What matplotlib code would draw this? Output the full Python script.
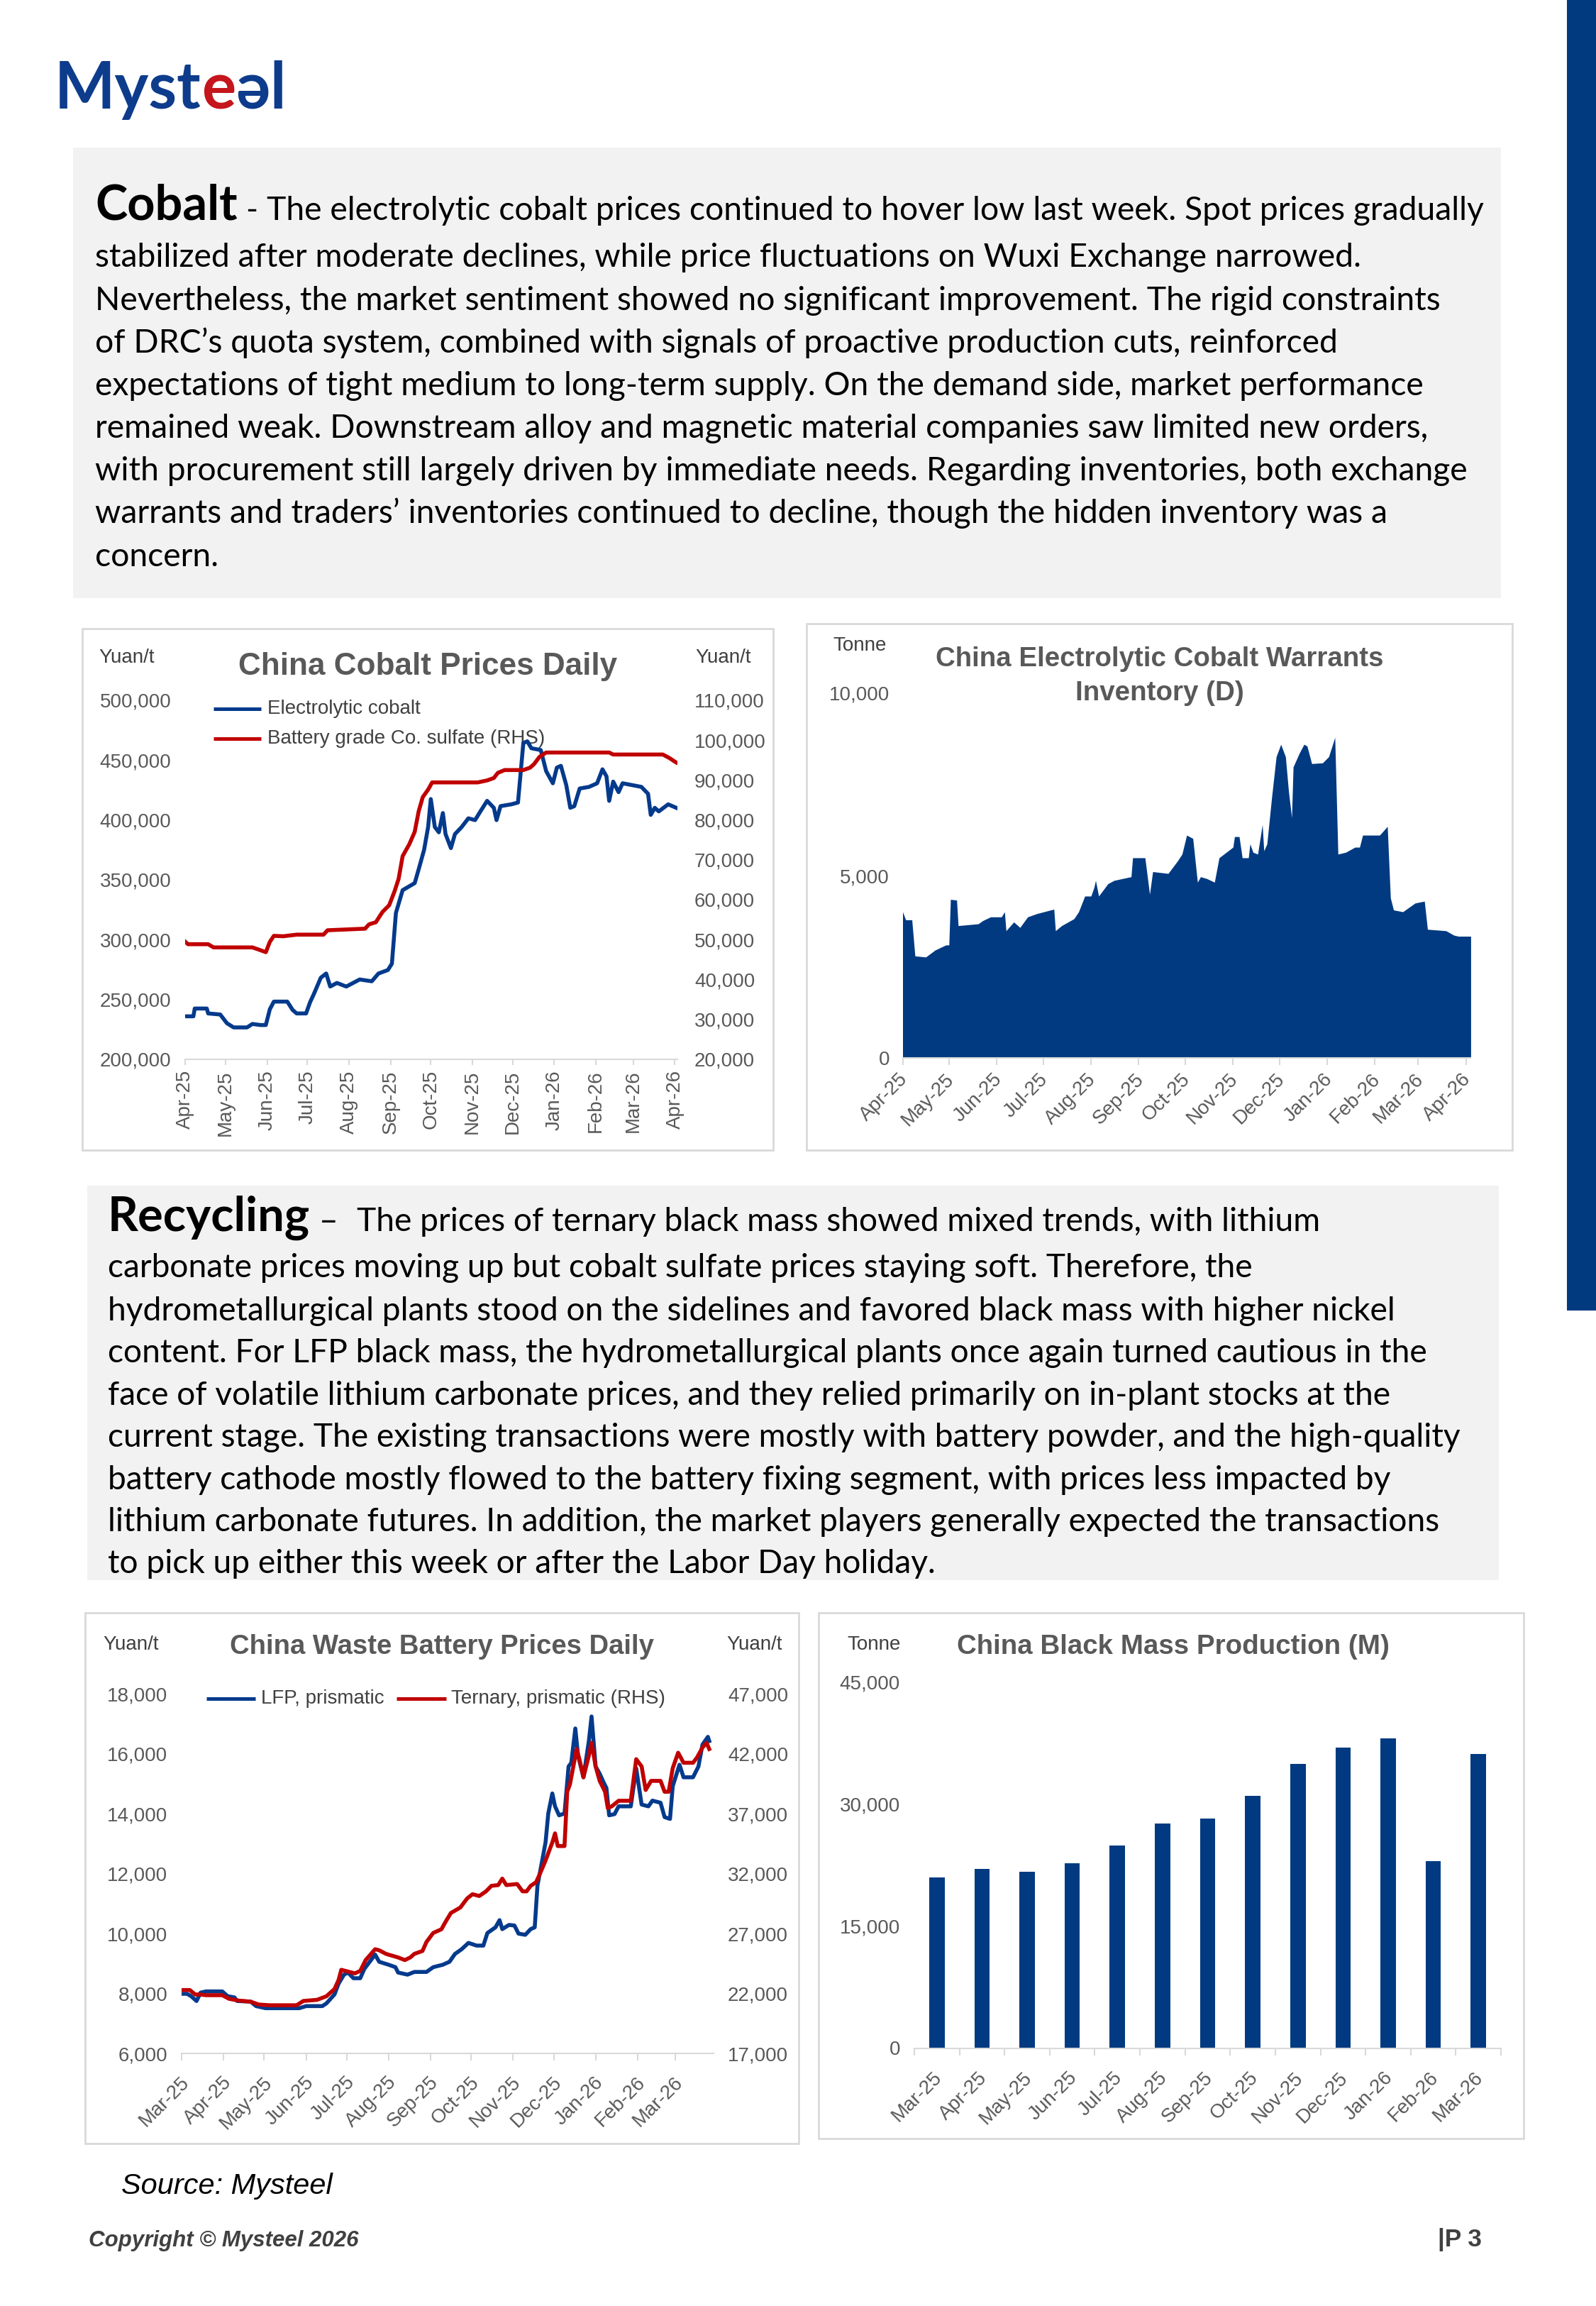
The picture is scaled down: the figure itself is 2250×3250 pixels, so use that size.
import matplotlib
matplotlib.use("Agg")
import matplotlib.pyplot as plt
import matplotlib.transforms as mtransforms
from matplotlib.patches import Rectangle
from matplotlib.lines import Line2D
from matplotlib.ticker import FuncFormatter
from matplotlib import font_manager
import numpy as np
import pandas as pd

# ----------------------------------------------------------------- data
cobalt_dates = ["2025-04-01", "2025-04-07", "2025-04-08", "2025-04-17", "2025-04-18", "2025-04-27",
                "2025-05-02", "2025-05-07", "2025-05-17", "2025-05-21", "2025-05-27", "2025-05-31",
                "2025-06-03", "2025-06-06", "2025-06-16", "2025-06-20", "2025-06-23", "2025-06-30",
                "2025-07-03", "2025-07-06", "2025-07-11", "2025-07-15", "2025-07-18", "2025-07-23",
                "2025-07-30", "2025-08-09", "2025-08-18", "2025-08-23", "2025-08-30", "2025-09-02",
                "2025-09-05", "2025-09-10", "2025-09-19", "2025-09-22", "2025-09-26", "2025-09-29",
                "2025-10-01", "2025-10-04", "2025-10-07", "2025-10-10", "2025-10-12", "2025-10-16",
                "2025-10-19", "2025-10-24", "2025-10-29", "2025-11-03", "2025-11-07", "2025-11-12",
                "2025-11-17", "2025-11-19", "2025-11-22", "2025-11-30", "2025-12-05", "2025-12-09",
                "2025-12-12", "2025-12-15", "2025-12-22", "2025-12-26", "2025-12-31", "2026-01-03",
                "2026-01-06", "2026-01-10", "2026-01-13", "2026-01-16", "2026-01-20", "2026-01-27",
                "2026-02-02", "2026-02-06", "2026-02-09", "2026-02-11", "2026-02-14", "2026-02-18",
                "2026-02-21", "2026-02-28", "2026-03-07", "2026-03-12", "2026-03-14", "2026-03-17",
                "2026-03-20", "2026-03-27", "2026-04-02"]
cobalt_price = [235700, 235700, 242200, 242200, 238100, 237200,
                229900, 226400, 226400, 229300, 228400, 228400,
                241600, 248000, 248000, 241000, 238100, 238100,
                247500, 254800, 268000, 271500, 260600, 263600,
                260600, 266500, 265000, 271500, 274400, 279700,
                322200, 341200, 347100, 358800, 374900, 394000,
                417400, 394000, 389600, 405700, 388100, 376400,
                388100, 394000, 401300, 399800, 407100, 415900,
                410100, 399800, 411500, 413000, 414500, 464300,
                465700, 459900, 458400, 440800, 430600, 443700,
                445200, 429100, 410100, 411500, 426200, 427600,
                430600, 442300, 436400, 415900, 432000, 423200,
                430600, 429100, 427600, 421800, 404200, 410100,
                407100, 413000, 410100]

sulfate_dates = ["2025-04-01", "2025-04-03", "2025-04-18", "2025-04-22", "2025-05-21", "2025-05-27",
                 "2025-05-31", "2025-06-03", "2025-06-06", "2025-06-13", "2025-06-23", "2025-07-13",
                 "2025-07-16", "2025-08-13", "2025-08-16", "2025-08-21", "2025-08-26", "2025-08-31",
                 "2025-09-04", "2025-09-07", "2025-09-10", "2025-09-15", "2025-09-19", "2025-09-22",
                 "2025-09-25", "2025-09-29", "2025-10-02", "2025-11-05", "2025-11-12", "2025-11-17",
                 "2025-11-20", "2025-11-25", "2025-12-09", "2025-12-14", "2025-12-17", "2025-12-21",
                 "2025-12-26", "2026-02-11", "2026-02-14", "2026-03-23", "2026-03-28", "2026-04-01",
                 "2026-04-02"]
sulfate_price = [49400, 48800, 48800, 48000, 48000, 47300,
                 46800, 49400, 50900, 50800, 51200, 51200,
                 52300, 52700, 53800, 54300, 56900, 58600,
                 62100, 65200, 70900, 73900, 77000, 82200,
                 85700, 87600, 89400, 89400, 89900, 90500,
                 91800, 92500, 92500, 93100, 94000, 95800,
                 96900, 96900, 96400, 96400, 95500, 94600,
                 94400]

warrant_dates = ["2025-04-01", "2025-04-03", "2025-04-07", "2025-04-09", "2025-04-16", "2025-04-22",
                 "2025-04-29", "2025-05-01", "2025-05-02", "2025-05-06", "2025-05-07", "2025-05-20",
                 "2025-05-23", "2025-05-28", "2025-06-04", "2025-06-06", "2025-06-07", "2025-06-12",
                 "2025-06-16", "2025-06-21", "2025-06-27", "2025-07-06", "2025-07-08", "2025-07-09",
                 "2025-07-13", "2025-07-21", "2025-07-24", "2025-07-28", "2025-08-01", "2025-08-03",
                 "2025-08-04", "2025-08-06", "2025-08-12", "2025-08-16", "2025-08-27", "2025-08-28",
                 "2025-09-05", "2025-09-08", "2025-09-10", "2025-09-20", "2025-09-26", "2025-09-29",
                 "2025-10-02", "2025-10-06", "2025-10-09", "2025-10-11", "2025-10-15", "2025-10-20",
                 "2025-10-23", "2025-11-01", "2025-11-02", "2025-11-05", "2025-11-07", "2025-11-11",
                 "2025-11-12", "2025-11-14", "2025-11-17", "2025-11-20", "2025-11-21", "2025-11-23",
                 "2025-11-26", "2025-11-29", "2025-12-02", "2025-12-05", "2025-12-07", "2025-12-09",
                 "2025-12-10", "2025-12-14", "2025-12-17", "2025-12-19", "2025-12-22", "2025-12-29",
                 "2026-01-02", "2026-01-06", "2026-01-08", "2026-01-13", "2026-01-19", "2026-01-22",
                 "2026-01-24", "2026-02-04", "2026-02-09", "2026-02-11", "2026-02-13", "2026-02-19",
                 "2026-02-27", "2026-03-05", "2026-03-07", "2026-03-19", "2026-03-24", "2026-03-27",
                 "2026-04-04"]
warrant_stock = [4010, 3790, 3790, 2800, 2770, 2960,
                 3100, 3100, 4350, 4330, 3630, 3680,
                 3770, 3870, 3870, 4010, 3490, 3730,
                 3580, 3870, 3960, 4060, 4080, 3490,
                 3630, 3820, 4010, 4440, 4440, 4680,
                 4870, 4440, 4780, 4870, 4970, 5490,
                 5490, 4490, 5110, 5060, 5400, 5590,
                 6110, 6020, 4820, 4970, 4920, 4820,
                 5490, 5780, 6070, 6070, 5490, 5490,
                 5870, 5640, 5590, 6400, 5680, 5870,
                 7120, 8260, 8600, 8260, 7310, 6590,
                 7980, 8360, 8600, 8550, 8070, 8090,
                 8260, 8790, 5590, 5640, 5780, 5780,
                 6110, 6110, 6350, 4390, 4060, 4010,
                 4250, 4300, 3530, 3490, 3370, 3340,
                 3340]

lfp_dates = ["2025-03-01", "2025-03-05", "2025-03-08", "2025-03-12", "2025-03-15", "2025-03-19",
             "2025-03-31", "2025-04-04", "2025-04-09", "2025-04-11", "2025-04-21", "2025-04-25",
             "2025-05-02", "2025-05-27", "2025-06-01", "2025-06-13", "2025-06-16", "2025-06-22",
             "2025-06-25", "2025-06-29", "2025-07-02", "2025-07-06", "2025-07-11", "2025-07-14",
             "2025-07-18", "2025-07-22", "2025-07-25", "2025-08-01", "2025-08-06", "2025-08-08",
             "2025-08-15", "2025-08-20", "2025-08-29", "2025-09-03", "2025-09-10", "2025-09-15",
             "2025-09-19", "2025-09-24", "2025-09-29", "2025-10-05", "2025-10-10", "2025-10-13",
             "2025-10-19", "2025-10-22", "2025-10-24", "2025-10-29", "2025-11-02", "2025-11-05",
             "2025-11-10", "2025-11-14", "2025-11-17", "2025-11-19", "2025-11-23", "2025-11-25",
             "2025-11-27", "2025-11-30", "2025-12-02", "2025-12-05", "2025-12-09", "2025-12-12",
             "2025-12-14", "2025-12-17", "2025-12-19", "2025-12-23", "2025-12-27", "2025-12-29",
             "2026-01-01", "2026-01-04", "2026-01-07", "2026-01-09", "2026-01-11", "2026-01-15",
             "2026-01-18", "2026-01-27", "2026-01-31", "2026-02-04", "2026-02-09", "2026-02-12",
             "2026-02-18", "2026-02-21", "2026-02-25", "2026-02-27", "2026-03-04", "2026-03-07",
             "2026-03-14", "2026-03-18", "2026-03-21", "2026-03-25", "2026-03-26"]
lfp_price = [7990, 7990, 7910, 7750, 8030, 8070,
             8070, 7910, 7870, 7750, 7730, 7580,
             7510, 7510, 7580, 7580, 7670, 7970,
             8330, 8630, 8700, 8510, 8510, 8820,
             9060, 9300, 9060, 8960, 8880, 8700,
             8630, 8720, 8720, 8880, 8960, 9060,
             9320, 9480, 9690, 9600, 9600, 10020,
             10210, 10450, 10150, 10290, 10270, 10000,
             9960, 10150, 10210, 11600, 12560, 13050,
             14010, 14680, 14250, 13950, 14010, 15580,
             15700, 16850, 15950, 15220, 16430, 17250,
             15580, 15340, 15040, 14860, 13950, 13990,
             14250, 14250, 15520, 14310, 14250, 14440,
             14370, 13890, 13830, 14920, 15640, 15220,
             15220, 15580, 16310, 16570, 16430]

ternary_dates = ["2025-03-01", "2025-03-07", "2025-03-11", "2025-03-14", "2025-03-19", "2025-03-31",
                 "2025-04-05", "2025-04-12", "2025-04-21", "2025-04-27", "2025-05-05", "2025-05-25",
                 "2025-05-30", "2025-06-09", "2025-06-16", "2025-06-22", "2025-06-25", "2025-06-27",
                 "2025-06-30", "2025-07-07", "2025-07-11", "2025-07-15", "2025-07-22", "2025-07-25",
                 "2025-07-30", "2025-08-08", "2025-08-13", "2025-08-17", "2025-08-20", "2025-08-26",
                 "2025-08-29", "2025-09-03", "2025-09-09", "2025-09-12", "2025-09-16", "2025-09-23",
                 "2025-09-28", "2025-10-02", "2025-10-07", "2025-10-12", "2025-10-16", "2025-10-21",
                 "2025-10-24", "2025-10-27", "2025-11-04", "2025-11-08", "2025-11-11", "2025-11-14",
                 "2025-11-18", "2025-11-21", "2025-11-25", "2025-11-28", "2025-11-30", "2025-12-02",
                 "2025-12-04", "2025-12-09", "2025-12-11", "2025-12-13", "2025-12-14", "2025-12-18",
                 "2025-12-20", "2025-12-23", "2025-12-27", "2025-12-29", "2026-01-01", "2026-01-04",
                 "2026-01-08", "2026-01-10", "2026-01-13", "2026-01-18", "2026-01-27", "2026-01-31",
                 "2026-02-04", "2026-02-07", "2026-02-11", "2026-02-18", "2026-02-21", "2026-02-24",
                 "2026-02-27", "2026-03-03", "2026-03-07", "2026-03-14", "2026-03-17", "2026-03-21",
                 "2026-03-24", "2026-03-26"]
ternary_price = [22290, 22290, 21920, 21920, 21860, 21860,
                 21560, 21410, 21320, 21080, 21020, 21020,
                 21380, 21470, 21770, 22380, 23130, 23980,
                 23890, 23680, 23890, 24790, 25700, 25610,
                 25310, 25010, 24790, 25010, 25310, 25550,
                 26310, 27060, 27360, 27970, 28720, 29180,
                 29930, 30290, 30140, 30530, 30990, 31050,
                 31590, 31050, 31140, 30530, 30530, 30990,
                 31290, 32040, 33100, 34010, 34610, 35370,
                 34310, 34310, 38840, 39450, 40050, 42410,
                 41560, 40050, 41860, 42920, 40960, 39750,
                 38840, 37480, 37630, 38090, 38090, 41560,
                 40960, 38990, 39750, 39750, 38840, 38840,
                 40810, 42100, 41260, 41260, 41710, 42530,
                 42920, 42410]

bm_months = ["Mar-25", "Apr-25", "May-25", "Jun-25", "Jul-25", "Aug-25", "Sep-25",
             "Oct-25", "Nov-25", "Dec-25", "Jan-26", "Feb-26", "Mar-26"]
bm_output = [21000, 22000, 21700, 22700, 24900, 27600, 28200,
             31000, 35000, 37000, 38100, 23000, 36200]

cobalt_para = [
    "- The electrolytic cobalt prices continued to hover low last week. Spot prices gradually",
    "stabilized after moderate declines, while price fluctuations on Wuxi Exchange narrowed.",
    "Nevertheless, the market sentiment showed no significant improvement. The rigid constraints",
    "of DRC\u2019s quota system, combined with signals of proactive production cuts, reinforced",
    "expectations of tight medium to long-term supply. On the demand side, market performance",
    "remained weak. Downstream alloy and magnetic material companies saw limited new orders,",
    "with procurement still largely driven by immediate needs. Regarding inventories, both exchange",
    "warrants and traders\u2019 inventories continued to decline, though the hidden inventory was a",
    "concern.",
]
recycling_para = [
    "The prices of ternary black mass showed mixed trends, with lithium",
    "carbonate prices moving up but cobalt sulfate prices staying soft. Therefore, the",
    "hydrometallurgical plants stood on the sidelines and favored black mass with higher nickel",
    "content. For LFP black mass, the hydrometallurgical plants once again turned cautious in the",
    "face of volatile lithium carbonate prices, and they relied primarily on in-plant stocks at the",
    "current stage. The existing transactions were mostly with battery powder, and the high-quality",
    "battery cathode mostly flowed to the battery fixing segment, with prices less impacted by",
    "lithium carbonate futures. In addition, the market players generally expected the transactions",
    "to pick up either this week or after the Labor Day holiday.",
]

# ----------------------------------------------------------------- setup
W, H = 2250, 3250
plt.rcParams['font.family'] = ['Liberation Sans', 'DejaVu Sans']
fig = plt.figure(figsize=(W / 100, H / 100), dpi=100)
fig.patch.set_facecolor('white')
renderer = fig.canvas.get_renderer()

names = {f.name for f in font_manager.fontManager.ttflist}
NARROW = 'Liberation Sans Narrow' if 'Liberation Sans Narrow' in names else 'Liberation Sans'
PARAF = 'Lato' if 'Lato' in names else 'DejaVu Sans'

BLUE = '#043A8C'
RED = '#C00000'
AREA = '#013A81'
FRAME = '#D9D9D9'
TICKC = '#595959'
LABC = '#404040'
TITC = '#595959'


def ftext(x, y, s, size, **kw):
    return fig.text(x / W, 1 - y / H, s, fontsize=size, **kw)


def measure(s, size, **kw):
    t = fig.text(0, 0, s, fontsize=size, **kw)
    w = t.get_window_extent(renderer).width
    t.remove()
    return w


def fit(s, target, **kw):
    return 40.0 * target / measure(s, 40.0, **kw)


def rect(x0, y0, x1, y1, **kw):
    fig.add_artist(Rectangle((x0 / W, 1 - y1 / H), (x1 - x0) / W, (y1 - y0) / H,
                             transform=fig.transFigure, **kw))


def hline(x0, x1, y, color, lw):
    fig.add_artist(Line2D([x0 / W, x1 / W], [1 - y / H, 1 - y / H], color=color, lw=lw,
                          transform=fig.transFigure, solid_capstyle='butt'))


def add_ax(l, t, r, b):
    return fig.add_axes([l / W, 1 - b / H, (r - l) / W, (b - t) / H])


fmt = FuncFormatter(lambda v, p: f'{v:,.0f}')


def style(ax, tick_len_px=10, ypad_px=20):
    ax.set_facecolor('none')
    for s in ('left', 'right', 'top'):
        ax.spines[s].set_visible(False)
    ax.spines['bottom'].set_color(FRAME)
    ax.spines['bottom'].set_linewidth(1.5)
    ax.tick_params(axis='y', length=0, labelsize=20, labelcolor=TICKC, pad=ypad_px * 0.72)
    ax.tick_params(axis='x', length=tick_len_px * 0.72, width=1.5, color=FRAME,
                   labelsize=20, labelcolor=TICKC, direction='out')
    ax.yaxis.set_major_formatter(fmt)


def style_twin(ax, ypad_px=20):
    ax.set_facecolor('none')
    for s in ('left', 'right', 'top', 'bottom'):
        ax.spines[s].set_visible(False)
    ax.tick_params(axis='y', length=0, labelsize=20, labelcolor=TICKC, pad=ypad_px * 0.72)
    ax.yaxis.set_major_formatter(fmt)


def rot45(ax, dx_px, dy_px, tick_len_px):
    ax.tick_params(axis='x', which='major', pad=max(dy_px - tick_len_px, 0) * 0.72)
    off = mtransforms.ScaledTranslation(dx_px / 100, 0, fig.dpi_scale_trans)
    for lab in ax.get_xticklabels():
        lab.set_rotation(45)
        lab.set_ha('right')
        lab.set_va('center')
        lab.set_rotation_mode('anchor')
        lab.set_transform(lab.get_transform() + off)


# ----------------------------------------------------------------- page furniture
rect(2209, 0, 2250, 1847, facecolor='#023A80', edgecolor='none', zorder=-20)
rect(103, 208, 2116, 843, facecolor='#F2F2F2', edgecolor='none', zorder=-20)
rect(123, 1671, 2113, 2227, facecolor='#F2F2F2', edgecolor='none', zorder=-20)
for (x0, y0, x1, y1) in [(116, 886, 1090, 1621), (1137, 879, 2132, 1621),
                         (120, 2273, 1126, 3021), (1154, 2273, 2148, 3014)]:
    rect(x0, y0, x1, y1, facecolor='white', edgecolor=FRAME, lw=2, zorder=-15)

# logo
LOGO_BLUE = '#0E3C8C'
LOGO_RED = '#C4161C'
logo_parts = [('Myst', LOGO_BLUE), ('e', LOGO_RED), ('\u0259', LOGO_BLUE), ('l', LOGO_BLUE)]
logo_kw = dict(family=[PARAF, 'DejaVu Sans'], fontweight='bold')
lsize = fit(''.join(p for p, _ in logo_parts), 326, **logo_kw)
xc = 77
for s, c in logo_parts:
    t = ftext(xc, 153, s, lsize, color=c, va='baseline', **logo_kw)
    xc += t.get_window_extent(renderer).width

# paragraphs
pkw = dict(family=PARAF, color='black', va='baseline')
cob_size = fit(cobalt_para[6], 1936, family=PARAF)
cob_bsize = fit('Cobalt', 201, family=PARAF, fontweight='bold')
ftext(134, 310, 'Cobalt', cob_bsize, fontweight='bold', **pkw)
ftext(347, 310, cobalt_para[0], cob_size, **pkw)
cob_base = [310, 376, 437, 497, 557, 617, 677, 737, 798]
for line, yb in zip(cobalt_para[1:], cob_base[1:]):
    ftext(134, yb, line, cob_size, **pkw)

rec_size = fit(recycling_para[5], 1909, family=PARAF)
rec_bsize = fit('Recycling', 285, family=PARAF, fontweight='bold')
ftext(152, 1735, 'Recycling', rec_bsize, fontweight='bold', **pkw)
ftext(450, 1735, '\u2013', rec_size, **pkw)
ftext(503, 1735, recycling_para[0], rec_size, **pkw)
rec_base = [1735, 1800, 1861, 1920, 1980, 2039, 2099, 2158, 2217]
for line, yb in zip(recycling_para[1:], rec_base[1:]):
    ftext(152, yb, line, rec_size, **pkw)

# footer
ftext(171, 3092, 'Source: Mysteel', fit('Source: Mysteel', 297, family=NARROW, style='italic'),
      family=NARROW, style='italic', color='black', va='baseline')
ftext(125, 3166, 'Copyright \u00a9 Mysteel 2026',
      fit('Copyright \u00a9 Mysteel 2026', 381, family=NARROW, style='italic', fontweight='bold'),
      family=NARROW, style='italic', fontweight='bold', color=LABC, va='baseline')
ftext(2027, 3166, '|P 3', fit('|P 3', 62, family=NARROW, fontweight='bold'),
      family=NARROW, fontweight='bold', color=LABC, va='baseline')

# ----------------------------------------------------------------- chart 1: cobalt prices
ax1 = add_ax(261.3, 987, 954.6, 1492.5)
style(ax1, tick_len_px=8, ypad_px=19.7)
ax1.plot(pd.to_datetime(cobalt_dates), cobalt_price, color=BLUE, lw=4, solid_joinstyle='round')
ax1.set_ylim(200000, 500000)
ax1.set_yticks(np.arange(200000, 500001, 50000))
m1 = pd.date_range('2025-04-01', '2026-04-01', freq='MS')
ax1.set_xlim(pd.Timestamp('2025-04-01'), pd.Timestamp('2026-04-02 16:00'))
ax1.set_xticks(m1, [d.strftime('%b-%y') for d in m1])
ax1.tick_params(axis='x', labelrotation=90, pad=5.5)
ax1r = ax1.twinx()
style_twin(ax1r, ypad_px=24.4)
ax1r.plot(pd.to_datetime(sulfate_dates), sulfate_price, color=RED, lw=4, solid_joinstyle='round')
ax1r.set_ylim(20000, 110000)
ax1r.set_yticks(np.arange(20000, 110001, 10000))

t1 = 'China Cobalt Prices Daily'
ftext(603, 951, t1, fit(t1, 533, fontweight='bold'), fontweight='bold', color=TITC,
      ha='center', va='baseline')
ftext(139.5, 934, 'Yuan/t', 20, color=LABC, va='baseline')
ftext(980, 934, 'Yuan/t', 20, color=LABC, va='baseline')
hline(301, 368, 999, BLUE, 3.6)
hline(301, 368, 1041, RED, 3.6)
ftext(377, 999, 'Electrolytic cobalt', 20, color=LABC, va='center', zorder=-1)
ftext(377, 1041, 'Battery grade Co. sulfate (RHS)', 20, color=LABC, va='center', zorder=-1)

# ----------------------------------------------------------------- chart 2: warrants inventory
ax2 = add_ax(1272.5, 977, 2073.4, 1491.3)
style(ax2, tick_len_px=10, ypad_px=18.5)
ax2.fill_between(pd.to_datetime(warrant_dates), warrant_stock, 0, color=AREA, lw=0)
ax2.set_ylim(0, 10000)
ax2.set_yticks([0, 5000, 10000])
m2 = pd.date_range('2025-04-01', '2026-04-01', freq='MS')
ax2.set_xlim(pd.Timestamp('2025-04-01'), pd.Timestamp('2026-04-04'))
ax2.set_xticks(m2, [d.strftime('%b-%y') for d in m2])
rot45(ax2, 3, 26, 10)

t2a = 'China Electrolytic Cobalt Warrants'
t2size = fit(t2a, 631, fontweight='bold')
ftext(1635, 939, t2a, t2size, fontweight='bold', color=TITC, ha='center', va='baseline')
ftext(1635, 987, 'Inventory (D)', t2size, fontweight='bold', color=TITC, ha='center', va='baseline')
ftext(1174, 917, 'Tonne', 20, color=LABC, va='baseline')

# ----------------------------------------------------------------- chart 3: waste battery prices
ax3 = add_ax(256.1, 2387.5, 1005.6, 2894)
style(ax3, tick_len_px=10, ypad_px=20)
ax3.plot(pd.to_datetime(lfp_dates), lfp_price, color=BLUE, lw=4, solid_joinstyle='round')
ax3.set_ylim(6000, 18000)
ax3.set_yticks(np.arange(6000, 18001, 2000))
m3 = pd.date_range('2025-03-01', '2026-03-01', freq='MS')
ax3.set_xlim(pd.Timestamp('2025-03-01'), pd.Timestamp('2026-03-29'))
ax3.set_xticks(m3, [d.strftime('%b-%y') for d in m3])
rot45(ax3, 7, 37, 10)
ax3r = ax3.twinx()
style_twin(ax3r, ypad_px=20.4)
ax3r.plot(pd.to_datetime(ternary_dates), ternary_price, color=RED, lw=4, solid_joinstyle='round')
ax3r.set_ylim(17000, 47000)
ax3r.set_yticks(np.arange(17000, 47001, 5000))

t3 = 'China Waste Battery Prices Daily'
ftext(623, 2331, t3, fit(t3, 598, fontweight='bold'), fontweight='bold', color=TITC,
      ha='center', va='baseline')
ftext(145.5, 2325, 'Yuan/t', 20, color=LABC, va='baseline')
ftext(1024, 2325, 'Yuan/t', 20, color=LABC, va='baseline')
hline(291, 360, 2394, BLUE, 3.6)
ftext(368, 2394, 'LFP, prismatic', 20, color=LABC, va='center')
hline(559, 629, 2394, RED, 3.6)
ftext(636, 2394, 'Ternary, prismatic (RHS)', 20, color=LABC, va='center')

# ----------------------------------------------------------------- chart 4: black mass production
ax4 = add_ax(1289, 2371, 2116, 2886.5)
style(ax4, tick_len_px=0, ypad_px=20)
xs = np.arange(len(bm_months))
ax4.bar(xs, bm_output, width=0.34, color=AREA)
ax4.set_ylim(0, 45000)
ax4.set_yticks([0, 15000, 30000, 45000])
ax4.set_xlim(-0.5, len(bm_months) - 0.5)
ax4.set_xticks(xs, bm_months)
ax4.set_xticks(np.arange(-0.5, len(bm_months), 1.0), minor=True)
ax4.tick_params(axis='x', which='minor', length=10 * 0.72, width=1.5, color=FRAME, direction='out')
ax4.tick_params(axis='x', which='major', length=0)
rot45(ax4, 3, 38, 0)

t4 = 'China Black Mass Production (M)'
ftext(1653.5, 2331, t4, fit(t4, 609, fontweight='bold'), fontweight='bold', color=TITC,
      ha='center', va='baseline')
ftext(1194.7, 2325, 'Tonne', 20, color=LABC, va='baseline')

fig.savefig('out.png', dpi=100, facecolor='white')
